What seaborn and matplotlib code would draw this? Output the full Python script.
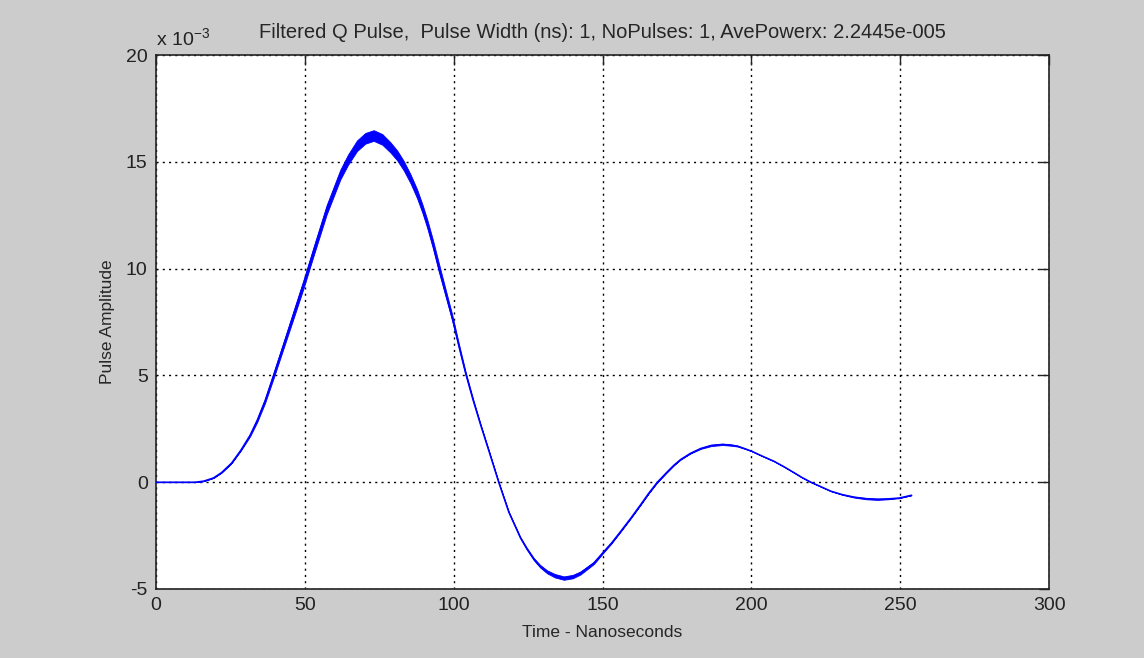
import matplotlib
matplotlib.use('Agg')
import matplotlib.pyplot as plt
import pandas as pd
import seaborn as sns

# Pulse samples (amplitude in units of 1e-3)
time_ns = [0, 13.1, 16.0, 19.3, 22.0, 25.4, 28.5, 31.6, 34.0, 36.6, 39.4,
           42.8, 46.2, 49.6, 52.9, 57.3, 61.9, 64.5, 67.5, 70.3, 73.1, 76.0,
           78.7, 81.0, 83.2, 85.5, 87.7, 89.5, 91.1, 93.0, 95.0, 97.2, 99.5,
           101.7, 104.0, 106.5, 109.0, 112.0, 115.1, 118.5, 122.4, 124.5,
           126.9, 129.0, 131.4, 134.0, 137.0, 140.0, 142.6, 145.0, 147.1,
           150.5, 153.0, 156.1, 159.5, 162.8, 165.5, 168.4, 171.5, 174.0,
           176.2, 179.5, 183.0, 186.5, 190.3, 193.0, 195.3, 198.0, 200.1,
           204.0, 207.6, 211.0, 214.4, 217.0, 220.0, 223.5, 226.7, 230.5,
           234.5, 238.5, 242.4, 246.0, 249.7, 253.8]
amplitude = [0, 0, 0.05, 0.2, 0.45, 0.9, 1.5, 2.2, 2.9, 3.8, 4.96,
             6.4, 7.85, 9.3, 10.8, 12.75, 14.4, 15.1, 15.75, 16.1, 16.23,
             16.05, 15.68, 15.3, 14.82, 14.2, 13.5, 12.8, 12.1, 11.15,
             10.05, 8.9, 7.7, 6.4, 5.1, 3.85, 2.7, 1.38, 0, -1.4, -2.6,
             -3.1, -3.6, -3.93, -4.2, -4.38, -4.49, -4.42, -4.25, -4.0,
             -3.78, -3.24, -2.85, -2.3, -1.68, -1.05, -0.52, 0, 0.45, 0.8,
             1.06, 1.35, 1.58, 1.72, 1.77, 1.74, 1.69, 1.56, 1.45, 1.2, 0.98,
             0.72, 0.44, 0.22, 0, -0.22, -0.42, -0.58, -0.70, -0.77, -0.80,
             -0.78, -0.74, -0.61]
# half-width of the ripple band seen around the trace
ripple = [0, 0, 0, 0, 0, 0, 0.02, 0.05, 0.08, 0.1, 0.13,
          0.15, 0.18, 0.2, 0.21, 0.22, 0.23, 0.24, 0.25, 0.25, 0.25,
          0.25, 0.24, 0.23, 0.22, 0.21, 0.21, 0.2, 0.2, 0.2,
          0.2, 0.17, 0.14, 0.1, 0.07, 0.05, 0.03, 0.02, 0.02, 0.02, 0.03,
          0.04, 0.05, 0.06, 0.07, 0.08, 0.08, 0.08, 0.07, 0.06,
          0.05, 0.03, 0.02, 0.01, 0, 0, 0, 0, 0, 0,
          0, 0.01, 0.02, 0.03, 0.03, 0.03, 0.02, 0.01, 0, 0, 0,
          0, 0, 0, 0, 0, 0, 0.01, 0.02, 0.03, 0.03,
          0.02, 0.01, 0]

x_ticks = [0, 50, 100, 150, 200, 250, 300]
y_ticks = [-5, 0, 5, 10, 15, 20]

title = ('Filtered Q Pulse,  Pulse Width (ns): 1, NoPulses: 1, '
         'AvePowerx: 2.2445e-005')

df = pd.DataFrame({'t': time_ns, 'amp': amplitude, 'rip': ripple})

sns.set_style('white')
plt.rcParams['font.family'] = ['Liberation Sans', 'DejaVu Sans']
plt.rcParams['mathtext.fontset'] = 'custom'
plt.rcParams['mathtext.rm'] = 'Liberation Sans'
plt.rcParams['mathtext.it'] = 'Liberation Sans'

fig = plt.figure(figsize=(11.44, 6.58), dpi=100, facecolor='#cccccc')
ax = fig.add_axes([0.1364, 0.1049, 0.7806, 0.8115])
ax.set_facecolor('white')

# ripple band, then the trace itself
ax.fill_between(df['t'], df['amp'] - df['rip'], df['amp'] + df['rip'],
                color='#0000ff', linewidth=0.6, zorder=3)
sns.lineplot(x='t', y='amp', data=df, ax=ax, color='#0000ff',
             linewidth=1.1, sort=False, estimator=None, zorder=4)

ax.set_xlim(0, 300)
ax.set_ylim(-5, 20)
ax.set_xticks(x_ticks)
ax.set_yticks(y_ticks)
ax.set_xticklabels([str(v) for v in x_ticks])
ax.set_yticklabels([str(v) for v in y_ticks])
ax.grid(True, color='black', linestyle=(0, (1.5, 3)), linewidth=1.0)
ax.set_axisbelow(True)
ax.tick_params(direction='in', length=7, width=1, colors='#222222',
               labelsize=14, top=True, right=True, pad=6)
for side in ax.spines.values():
  side.set_color('#222222')
  side.set_linewidth(1.2)

ax.set_xlabel('Time - Nanoseconds', fontsize=12.5, labelpad=8)
ax.set_ylabel('Pulse Amplitude', fontsize=12.5, labelpad=8)
ax.set_title(title, fontsize=14.5, pad=12)
ax.text(0.0, 1.012, r'x 10$^{-3}$', transform=ax.transAxes, fontsize=14,
        ha='left', va='bottom', color='#222222')

fig.savefig('out.png', dpi=100, facecolor=fig.get_facecolor())
